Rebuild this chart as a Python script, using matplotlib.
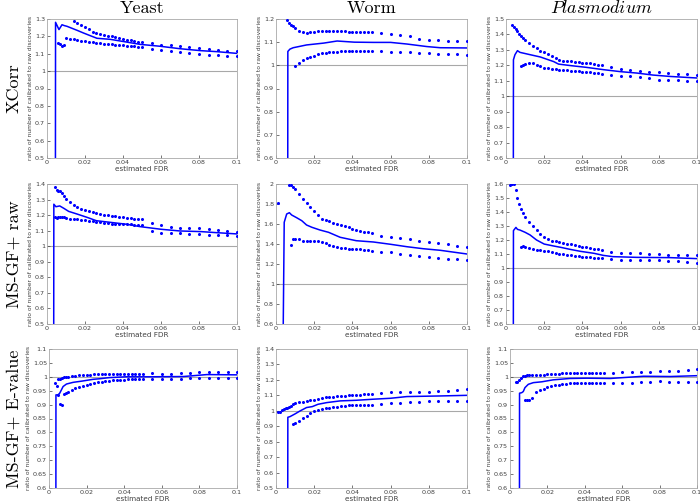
import numpy as np
import matplotlib
matplotlib.use('Agg')
import matplotlib.pyplot as plt

plt.rcParams['mathtext.fontset'] = 'cm'

na = np.nan

# estimated FDR thresholds where the bounds (dots) are evaluated
fdr_dots = [0.001, 0.002, 0.003, 0.004, 0.005, 0.006, 0.007, 0.008, 0.009, 0.010,
            0.012, 0.014, 0.016, 0.018, 0.020, 0.022, 0.024, 0.026, 0.028, 0.030,
            0.032, 0.034, 0.036, 0.038, 0.040, 0.042, 0.044, 0.046, 0.048, 0.050,
            0.055, 0.060, 0.065, 0.070, 0.075, 0.080, 0.085, 0.090, 0.095, 0.100]

col_titles = ['Yeast', 'Worm', r'$\mathit{Plasmodium}$']
row_titles = ['XCorr', 'MS-GF+ raw', 'MS-GF+ E-value']

# ---- XCorr ----
yeast_xcorr_x = [0.0044, 0.0045, 0.0063, 0.0079, 0.0091, 0.0105, 0.0158, 0.0193, 0.0237,
                 0.0263, 0.0333, 0.0404, 0.049, 0.0596, 0.070, 0.0807, 0.0895, 0.1]
yeast_xcorr_y = [0.0, 1.281, 1.239, 1.267, 1.262, 1.258, 1.235, 1.219, 1.20,
                 1.189, 1.183, 1.17, 1.154, 1.143, 1.129, 1.118, 1.112, 1.102]
yeast_xcorr_up = [na, na, na, na, na, na, na, na, na, na,
                  na, 1.287, 1.277, 1.266, 1.252, 1.24, 1.228, 1.218, 1.212, 1.208,
                  1.205, 1.2, 1.196, 1.19, 1.185, 1.18, 1.177, 1.173, 1.17, 1.166,
                  1.160, 1.152, 1.150, 1.145, 1.139, 1.131, 1.127, 1.123, 1.118, 1.114]
yeast_xcorr_lo = [na, na, na, na, na, 1.16, 1.155, 1.145, 1.15, 1.19,
                  1.187, 1.183, 1.18, 1.176, 1.172, 1.168, 1.165, 1.162, 1.16, 1.158,
                  1.156, 1.154, 1.152, 1.15, 1.148, 1.146, 1.145, 1.143, 1.14, 1.138,
                  1.127, 1.123, 1.114, 1.108, 1.104, 1.098, 1.093, 1.091, 1.089, 1.085]

worm_xcorr_x = [0.0061, 0.0062, 0.0073, 0.009, 0.016, 0.025, 0.032, 0.041, 0.051,
                0.060, 0.0685, 0.079, 0.086, 0.1]
worm_xcorr_y = [0.0, 1.06, 1.07, 1.076, 1.088, 1.096, 1.105, 1.10, 1.099,
                1.099, 1.092, 1.081, 1.076, 1.075]
worm_xcorr_up = [na, na, na, na, na, 1.194, 1.183, 1.176, 1.17, 1.163,
                 1.148, 1.144, 1.14, 1.143, 1.145, 1.147, 1.148, 1.148, 1.149, 1.15,
                 1.15, 1.149, 1.148, 1.146, 1.145, 1.144, 1.143, 1.142, 1.142, 1.142,
                 1.138, 1.137, 1.132, 1.125, 1.115, 1.111, 1.108, 1.106, 1.104, 1.104]
worm_xcorr_lo = [na, na, na, na, na, na, na, na, na, 0.996,
                 1.008, 1.024, 1.032, 1.037, 1.042, 1.047, 1.052, 1.053, 1.056, 1.058,
                 1.059, 1.06, 1.06, 1.06, 1.06, 1.06, 1.06, 1.06, 1.06, 1.06,
                 1.06, 1.058, 1.056, 1.056, 1.053, 1.053, 1.05, 1.05, 1.049, 1.043]

plas_xcorr_x = [0.0038, 0.0039, 0.0047, 0.006, 0.0073, 0.0126, 0.018, 0.025, 0.0275,
                0.034, 0.042, 0.051, 0.06, 0.0685, 0.077, 0.086, 0.1]
plas_xcorr_y = [0.0, 1.236, 1.269, 1.295, 1.284, 1.269, 1.254, 1.224, 1.208,
                1.198, 1.187, 1.172, 1.159, 1.15, 1.137, 1.128, 1.118]
plas_xcorr_up = [na, na, 1.46, 1.45, 1.438, 1.42, 1.405, 1.39, 1.378, 1.366,
                 1.345, 1.322, 1.31, 1.295, 1.285, 1.272, 1.258, 1.248, 1.237, 1.23,
                 1.226, 1.225, 1.222, 1.219, 1.218, 1.216, 1.214, 1.21, 1.205, 1.2,
                 1.187, 1.178, 1.172, 1.165, 1.154, 1.154, 1.15, 1.146, 1.141, 1.139]
plas_xcorr_lo = [na, na, na, na, na, na, na, 1.193, 1.204, 1.21,
                 1.215, 1.213, 1.205, 1.195, 1.185, 1.18, 1.177, 1.174, 1.172, 1.17,
                 1.168, 1.166, 1.163, 1.161, 1.158, 1.156, 1.154, 1.151, 1.149, 1.146,
                 1.135, 1.133, 1.128, 1.122, 1.118, 1.107, 1.107, 1.103, 1.1, 1.096]

# ---- MS-GF+ raw ----
yeast_raw_x = [0.0035, 0.0036, 0.0047, 0.0067, 0.0088, 0.0114, 0.0158, 0.021, 0.026,
               0.033, 0.042, 0.049, 0.06, 0.07, 0.081, 0.0895, 0.1]
yeast_raw_y = [0.0, 1.27, 1.254, 1.259, 1.244, 1.224, 1.207, 1.186, 1.164,
               1.154, 1.141, 1.126, 1.109, 1.098, 1.094, 1.087, 1.079]
yeast_raw_up = [na, na, na, 1.383, 1.36, 1.357, 1.355, 1.34, 1.323, 1.305,
                1.285, 1.265, 1.25, 1.24, 1.232, 1.224, 1.218, 1.212, 1.207, 1.203,
                1.2, 1.196, 1.193, 1.19, 1.186, 1.183, 1.18, 1.177, 1.175, 1.173,
                1.147, 1.134, 1.126, 1.119, 1.117, 1.115, 1.109, 1.104, 1.098, 1.094]
yeast_raw_lo = [na, na, na, 1.185, 1.182, 1.185, 1.188, 1.19, 1.19, 1.18,
                1.177, 1.175, 1.173, 1.171, 1.169, 1.165, 1.161, 1.158, 1.155, 1.151,
                1.148, 1.146, 1.144, 1.143, 1.142, 1.141, 1.14, 1.139, 1.138, 1.137,
                1.1, 1.087, 1.087, 1.083, 1.079, 1.077, 1.073, 1.073, 1.073, 1.066]

worm_raw_x = [0.0035, 0.0043, 0.0056, 0.007, 0.0082, 0.0108, 0.0135, 0.016, 0.0188, 0.023,
              0.0275, 0.0336, 0.042, 0.051, 0.06, 0.0685, 0.077, 0.086, 0.1]
worm_raw_y = [0.0, 1.617, 1.70, 1.713, 1.69, 1.663, 1.633, 1.59, 1.567, 1.54,
              1.517, 1.467, 1.433, 1.42, 1.397, 1.373, 1.353, 1.337, 1.30]
worm_raw_up = [1.813, na, na, na, na, na, 1.99, 1.987, 1.965, 1.947,
               1.9, 1.85, 1.807, 1.77, 1.73, 1.69, 1.647, 1.637, 1.625, 1.61,
               1.598, 1.59, 1.578, 1.565, 1.552, 1.535, 1.528, 1.522, 1.515, 1.507,
               1.483, 1.473, 1.463, 1.453, 1.433, 1.42, 1.413, 1.40, 1.38, 1.367]
worm_raw_lo = [na, na, na, na, na, na, na, 1.39, 1.45, 1.45,
               1.452, 1.43, 1.43, 1.43, 1.432, 1.425, 1.415, 1.405, 1.39, 1.38,
               1.37, 1.363, 1.357, 1.352, 1.349, 1.347, 1.345, 1.34, 1.337, 1.33,
               1.323, 1.317, 1.303, 1.293, 1.283, 1.27, 1.263, 1.253, 1.247, 1.24]

plas_raw_x = [0.0038, 0.0039, 0.0052, 0.006, 0.0073, 0.010, 0.0126, 0.016, 0.020, 0.025,
              0.0285, 0.0336, 0.039, 0.046, 0.051, 0.056, 0.0685, 0.086, 0.1]
plas_raw_y = [0.0, 1.267, 1.29, 1.276, 1.271, 1.255, 1.236, 1.20, 1.171, 1.157,
              1.148, 1.133, 1.119, 1.105, 1.09, 1.081, 1.076, 1.074, 1.067]
plas_raw_up = [na, 1.59, 1.60, 1.60, 1.56, 1.5, 1.46, 1.425, 1.395, 1.367,
               1.33, 1.3, 1.27, 1.245, 1.224, 1.207, 1.195, 1.19, 1.183, 1.177,
               1.173, 1.168, 1.163, 1.158, 1.152, 1.148, 1.143, 1.138, 1.133, 1.128,
               1.117, 1.105, 1.105, 1.105, 1.10, 1.098, 1.093, 1.093, 1.093, 1.093]
plas_raw_lo = [na, na, na, na, na, na, na, 1.152, 1.155, 1.152,
               1.145, 1.137, 1.13, 1.127, 1.124, 1.118, 1.112, 1.106, 1.10, 1.097,
               1.093, 1.09, 1.087, 1.084, 1.081, 1.079, 1.076, 1.074, 1.072, 1.069,
               1.062, 1.057, 1.057, 1.057, 1.057, 1.057, 1.052, 1.05, 1.045, 1.033]

# ---- MS-GF+ E-value ----
yeast_ev_x = [0.0036, 0.0037, 0.0048, 0.0057, 0.0066, 0.0075, 0.0093, 0.0128, 0.018,
              0.0235, 0.027, 0.032, 0.041, 0.054, 0.0715, 0.084, 0.1]
yeast_ev_y = [0.0, 0.935, 0.935, 0.941, 0.953, 0.965, 0.974, 0.98, 0.985,
              0.991, 0.993, 0.997, 1.0, 1.0, 1.001, 1.008, 1.007]
yeast_ev_up = [na, na, 0.979, 0.967, 0.991, 0.992, 0.995, 0.998, 1.0, 1.0,
               1.002, 1.003, 1.005, 1.006, 1.007, 1.008, 1.009, 1.009, 1.01, 1.01,
               1.011, 1.011, 1.011, 1.011, 1.011, 1.011, 1.011, 1.011, 1.011, 1.011,
               1.013, 1.011, 1.009, 1.013, 1.015, 1.017, 1.019, 1.019, 1.019, 1.017]
yeast_ev_lo = [na, na, na, na, 0.935, 0.903, 0.897, 0.939, 0.943, 0.947,
               0.953, 0.958, 0.963, 0.968, 0.971, 0.974, 0.977, 0.98, 0.982, 0.984,
               0.986, 0.987, 0.988, 0.989, 0.99, 0.991, 0.991, 0.991, 0.991, 0.991,
               0.991, 0.991, 0.992, 0.993, 0.995, 0.997, 0.997, 0.997, 0.997, 0.997]

worm_ev_x = [0.0061, 0.0062, 0.0073, 0.010, 0.0126, 0.016, 0.019, 0.022, 0.0266,
             0.0336, 0.042, 0.051, 0.06, 0.0685, 0.086, 0.1]
worm_ev_y = [0.0, 0.958, 0.962, 0.98, 0.999, 1.021, 1.027, 1.042, 1.053,
             1.064, 1.068, 1.075, 1.081, 1.092, 1.096, 1.10]
worm_ev_up = [0.99, 0.995, 1.003, 1.01, 1.016, 1.02, 1.025, 1.033, 1.042, 1.049,
              1.055, 1.06, 1.064, 1.068, 1.072, 1.079, 1.085, 1.087, 1.09, 1.091,
              1.093, 1.095, 1.098, 1.101, 1.103, 1.104, 1.105, 1.106, 1.107, 1.107,
              1.113, 1.12, 1.122, 1.122, 1.124, 1.124, 1.126, 1.131, 1.135, 1.139]
worm_ev_lo = [na, na, na, na, na, na, na, na, 0.915, 0.924,
              0.935, 0.955, 0.968, 0.985, 0.998, 1.004, 1.011, 1.016, 1.02, 1.024,
              1.027, 1.03, 1.033, 1.035, 1.036, 1.037, 1.038, 1.038, 1.038, 1.038,
              1.044, 1.053, 1.053, 1.06, 1.06, 1.062, 1.062, 1.062, 1.064, 1.066]

plas_ev_x = [0.005, 0.0051, 0.0063, 0.0071, 0.008, 0.0098, 0.0125, 0.017, 0.023,
             0.032, 0.041, 0.0536, 0.0625, 0.0714, 0.0857, 0.1]
plas_ev_y = [0.0, 0.941, 0.943, 0.947, 0.961, 0.973, 0.979, 0.982, 0.989,
             0.994, 0.995, 0.994, 0.998, 1.002, 1.001, 1.004]
plas_ev_up = [na, na, 0.982, 0.983, 0.988, 0.995, 1.002, 1.004, 1.006, 1.008,
              1.008, 1.007, 1.007, 1.008, 1.009, 1.01, 1.011, 1.011, 1.012, 1.012,
              1.012, 1.012, 1.012, 1.012, 1.012, 1.012, 1.013, 1.013, 1.013, 1.013,
              1.013, 1.016, 1.019, 1.019, 1.019, 1.021, 1.021, 1.022, 1.025, 1.027]
plas_ev_lo = [na, na, na, na, na, na, na, 0.915, 0.917, 0.917,
              0.923, 0.944, 0.952, 0.957, 0.962, 0.966, 0.969, 0.971, 0.973, 0.975,
              0.977, 0.977, 0.977, 0.977, 0.977, 0.978, 0.978, 0.978, 0.978, 0.978,
              0.977, 0.977, 0.979, 0.983, 0.983, 0.984, 0.981, 0.983, 0.98, 0.983]

ylims = [[(0.5, 1.3), (0.6, 1.2), (0.6, 1.5)],
         [(0.5, 1.4), (0.6, 2.0), (0.6, 1.6)],
         [(0.6, 1.1), (0.5, 1.4), (0.6, 1.1)]]
ysteps = [[0.1, 0.1, 0.1],
          [0.1, 0.2, 0.1],
          [0.05, 0.1, 0.05]]

panels = [[(yeast_xcorr_x, yeast_xcorr_y, yeast_xcorr_up, yeast_xcorr_lo),
           (worm_xcorr_x, worm_xcorr_y, worm_xcorr_up, worm_xcorr_lo),
           (plas_xcorr_x, plas_xcorr_y, plas_xcorr_up, plas_xcorr_lo)],
          [(yeast_raw_x, yeast_raw_y, yeast_raw_up, yeast_raw_lo),
           (worm_raw_x, worm_raw_y, worm_raw_up, worm_raw_lo),
           (plas_raw_x, plas_raw_y, plas_raw_up, plas_raw_lo)],
          [(yeast_ev_x, yeast_ev_y, yeast_ev_up, yeast_ev_lo),
           (worm_ev_x, worm_ev_y, worm_ev_up, worm_ev_lo),
           (plas_ev_x, plas_ev_y, plas_ev_up, plas_ev_lo)]]

# axes boxes in pixels: (left, right) per panel, (top, bottom) per row
col_px = [[(47, 237), (276, 467), (506, 697)],
          [(47, 237), (276, 467), (506, 697)],
          [(49, 237), (276, 467), (510, 697)]]
row_px = [(19, 158), (184, 324), (349, 488)]

W, H = 700.0, 504.0
blue = '#0000ff'
gray = '#a8a8a8'

fig = plt.figure(figsize=(7, 5.04), dpi=100)

for r in range(3):
    for c in range(3):
        l, rr = col_px[r][c]
        t, b = row_px[r]
        ax = fig.add_axes([l / W, 1 - b / H, (rr - l) / W, (b - t) / H])
        lx, ly, up, lo = panels[r][c]
        ax.axhline(1.0, color=gray, lw=0.8, zorder=1)
        ax.plot(lx, ly, color=blue, lw=1.1, zorder=3)
        ax.plot(fdr_dots, up, ls='none', marker='.', ms=2.4, color=blue, zorder=3)
        ax.plot(fdr_dots, lo, ls='none', marker='.', ms=2.4, color=blue, zorder=3)
        ax.set_xlim(0, 0.1)
        lo_y, hi_y = ylims[r][c]
        ax.set_ylim(lo_y, hi_y)
        ax.set_xticks([0, 0.02, 0.04, 0.06, 0.08, 0.1])
        ax.set_xticklabels(['0', '0.02', '0.04', '0.06', '0.08', '0.1'])
        st = ysteps[r][c]
        n = int(round((hi_y - lo_y) / st))
        yt = [lo_y + i * st for i in range(n + 1)]
        ax.set_yticks(yt)
        ax.set_yticklabels(['%g' % round(v, 2) for v in yt])
        ax.tick_params(labelsize=4.6, length=2, width=0.5, direction='in',
                       colors='#404040', pad=1.5)
        for sp in ax.spines.values():
            sp.set_color(gray)
            sp.set_linewidth(0.6)
        ax.set_xlabel('estimated FDR', fontsize=5.2, color='#404040', labelpad=0.5)
        ax.set_ylabel('ratio of number of calibrated to raw discoveries',
                      fontsize=4.3, color='#404040', labelpad=1.5)
        if r == 0:
            ax.set_title(col_titles[c], family='cmr10', fontsize=13, pad=4)

row_y = [(19 + 158) / 2, (184 + 324) / 2, (349 + 488) / 2]
for r in range(3):
    fig.text(14 / W, 1 - row_y[r] / H, row_titles[r], family='cmr10', fontsize=13,
             rotation=90, ha='center', va='center')

fig.savefig('out.png', dpi=100)
